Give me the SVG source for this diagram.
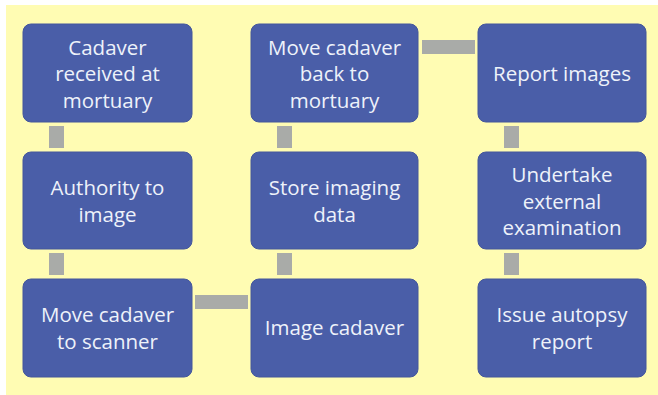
<svg xmlns="http://www.w3.org/2000/svg" width="658" height="395" viewBox="0 0 658 395">
<style>
.bg{fill:#fffcb3}
.node{fill:#4a5ea8;stroke:#44579c;stroke-width:1}
.lbl{font-family:"Open Sans","Liberation Sans",sans-serif;font-size:20.5px;fill:#eef2fa;text-anchor:middle}
.conn{fill:#a9aba8}
</style>
<rect x="0" y="0" width="658" height="395" fill="#ffffff"/>
<rect class="bg" x="6" y="5" width="652" height="390"/>
<g id="connectors">
<rect class="conn" x="49" y="126" width="15" height="22"/>
<rect class="conn" x="49" y="253" width="15" height="22"/>
<rect class="conn" x="195" y="295" width="53" height="14"/>
<rect class="conn" x="277" y="253" width="15" height="22"/>
<rect class="conn" x="277" y="126" width="15" height="22"/>
<rect class="conn" x="422" y="40" width="53" height="14"/>
<rect class="conn" x="504" y="126" width="15" height="22"/>
<rect class="conn" x="504" y="253" width="15" height="22"/>
</g>
<g id="n1">
<rect class="node" x="23" y="24" width="169" height="98" rx="8"/>
<text class="lbl" x="107.5" y="54.5">Cadaver</text>
<text class="lbl" x="107.5" y="81">received at</text>
<text class="lbl" x="107.5" y="107.5">mortuary</text>
</g>
<g id="n2">
<rect class="node" x="23" y="152" width="169" height="97" rx="8"/>
<text class="lbl" x="107.5" y="195">Authority to</text>
<text class="lbl" x="107.5" y="221.5">image</text>
</g>
<g id="n3">
<rect class="node" x="23" y="279" width="169" height="98" rx="8"/>
<text class="lbl" x="107.5" y="322">Move cadaver</text>
<text class="lbl" x="107.5" y="348.5">to scanner</text>
</g>
<g id="n4">
<rect class="node" x="251" y="279" width="167" height="98" rx="8"/>
<text class="lbl" x="334.5" y="335">Image cadaver</text>
</g>
<g id="n5">
<rect class="node" x="251" y="152" width="167" height="97" rx="8"/>
<text class="lbl" x="334.5" y="195">Store imaging</text>
<text class="lbl" x="334.5" y="221.5">data</text>
</g>
<g id="n6">
<rect class="node" x="251" y="24" width="167" height="98" rx="8"/>
<text class="lbl" x="334.5" y="54.5">Move cadaver</text>
<text class="lbl" x="334.5" y="81">back to</text>
<text class="lbl" x="334.5" y="107.5">mortuary</text>
</g>
<g id="n7">
<rect class="node" x="478" y="24" width="168" height="98" rx="8"/>
<text class="lbl" x="562" y="81">Report images</text>
</g>
<g id="n8">
<rect class="node" x="478" y="152" width="168" height="97" rx="8"/>
<text class="lbl" x="562" y="182">Undertake</text>
<text class="lbl" x="562" y="208.5">external</text>
<text class="lbl" x="562" y="235">examination</text>
</g>
<g id="n9">
<rect class="node" x="478" y="279" width="168" height="98" rx="8"/>
<text class="lbl" x="562" y="322">Issue autopsy</text>
<text class="lbl" x="562" y="348.5">report</text>
</g>
</svg>
